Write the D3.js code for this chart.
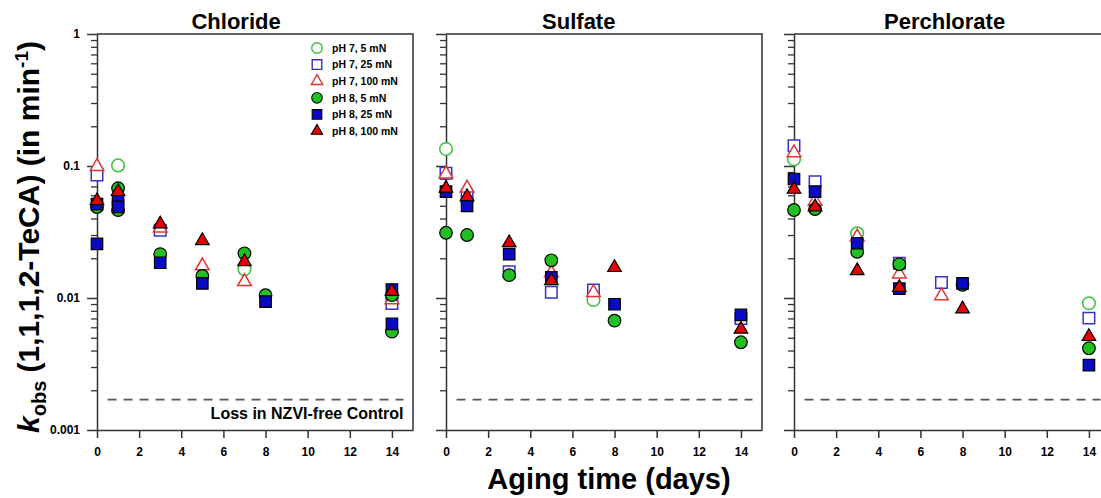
<!DOCTYPE html>
<html>
<head>
<meta charset="utf-8">
<script src="https://cdn.jsdelivr.net/npm/d3@7"></script>
<style>
  body { margin: 0; background: #fff; }
  svg { display: block; font-family: "Liberation Sans", Arial, sans-serif; font-weight: bold; }
</style>
</head>
<body>
<script>
const panels = ['Chloride', 'Sulfate', 'Perchlorate']
const seriesNames = ['pH 7, 5 mN', 'pH 7, 25 mN', 'pH 7, 100 mN', 'pH 8, 5 mN', 'pH 8, 25 mN', 'pH 8, 100 mN']
const xTicks = [0, 2, 4, 6, 8, 10, 12, 14]
const yMajor = [0.001, 0.01, 0.1, 1]
const yLabels = ['0.001', '0.01', '0.1', '1']
const controlLoss = 0.0017

// [day, kobs] per series, series in the order of seriesNames
const chloride = [
    [[1, 0.101], [7, 0.0165]],
    [[0, 0.0855], [3, 0.0326], [14, 0.0091]],
    [[0, 0.099], [3, 0.0338], [5, 0.0175], [7, 0.0133], [14, 0.0097]],
    [[0, 0.0489], [1, 0.0678], [1, 0.0464], [3, 0.0215], [5, 0.0147], [7, 0.0218], [8, 0.0105], [14, 0.0105], [14, 0.00556]],
    [[0, 0.0515], [0, 0.0257], [1, 0.055], [1, 0.049], [3, 0.0185], [5, 0.0129], [8, 0.0094], [14, 0.0116], [14, 0.00636]],
    [[0, 0.0546], [1, 0.064], [3, 0.0364], [5, 0.0272], [7, 0.0188], [14, 0.0112]]
]
const sulfate = [
    [[0, 0.1345], [7, 0.00966]],
    [[0, 0.088], [1, 0.059], [3, 0.0158], [5, 0.01105], [7, 0.0115], [14, 0.0070]],
    [[0, 0.087], [1, 0.068], [5, 0.0155], [7, 0.0110]],
    [[0, 0.0312], [1, 0.030], [3, 0.0149], [5, 0.0193], [8, 0.00673], [14, 0.00462]],
    [[0, 0.064], [1, 0.0498], [3, 0.0215], [5, 0.01435], [8, 0.00897], [14, 0.00744]],
    [[0, 0.0678], [1, 0.0586], [3, 0.0262], [5, 0.0135], [8, 0.0170], [14, 0.0058]]
]
const perchlorate = [
    [[0, 0.1124], [3, 0.0309], [14, 0.00912]],
    [[0, 0.1425], [1, 0.076], [5, 0.0183], [7, 0.0131], [14, 0.00704]],
    [[0, 0.126], [1, 0.054], [3, 0.029], [5, 0.0152], [7, 0.0104]],
    [[0, 0.0464], [1, 0.0472], [3, 0.0224], [5, 0.018], [8, 0.0126], [14, 0.00416]],
    [[0, 0.0797], [1, 0.064], [3, 0.026], [5, 0.01177], [8, 0.0129], [14, 0.0031]],
    [[0, 0.0666], [1, 0.049], [3, 0.0161], [5, 0.0120], [8, 0.00826], [14, 0.0051]]
]
const panelData = [chloride, sulfate, perchlorate]

// marker style per series
const shapes = [d3.symbolCircle, d3.symbolSquare, d3.symbolTriangle, d3.symbolCircle, d3.symbolSquare, d3.symbolTriangle]
const sizes = [125, 132, 80, 125, 132, 80]
const fills = ['#fff', '#fff', '#fff', '#1fc01f', '#0a0ac4', '#e80000']
const strokes = ['#3cc03c', '#3434cc', '#e03434', '#000', '#000', '#000']

const width = 1101
const height = 498
const panelLeft = [97, 446, 794]
const panelWidth = 316
const plotTop = 34
const plotBottom = 430
const titleShift = [-0.4, -0.7, 0.15]
const font = '"Liberation Sans", Arial, sans-serif'

const svg = d3.select('body').append('svg')
    .attr('width', width)
    .attr('height', height)

const y = d3.scaleLog().domain([0.001, 1]).range([plotBottom, plotTop])
const yMinor = []
for (let e = -3; e < 0; e++) {
    for (let m = 2; m < 10; m++) yMinor.push(m * Math.pow(10, e))
}

panels.forEach((name, p) => {
    const x = d3.scaleLinear().domain([0, 15]).range([panelLeft[p], panelLeft[p] + panelWidth])
    const g = svg.append('g')

    // frame top + right
    g.append('path')
        .attr('d', `M${x(0)},${y(1)}H${x(15)}V${y(0.001)}`)
        .attr('fill', 'none')
        .attr('stroke', '#333')
        .attr('stroke-width', 1.5)

    // minor y ticks
    g.append('g')
        .attr('transform', `translate(${x(0)},0)`)
        .call(d3.axisLeft(y).tickValues(yMinor).tickSize(6).tickSizeOuter(0).tickFormat(''))
        .call(a => a.select('.domain').remove())
        .call(a => a.selectAll('line').attr('stroke', '#333').attr('stroke-width', 1.3))

    // major y ticks
    g.append('g')
        .attr('transform', `translate(${x(0)},0)`)
        .call(d3.axisLeft(y).tickValues(yMajor).tickSize(10).tickSizeOuter(0)
            .tickFormat((d, i) => p === 0 ? yLabels[i] : ''))
        .call(a => a.select('.domain').attr('stroke', '#333').attr('stroke-width', 1.5))
        .call(a => a.selectAll('line').attr('stroke', '#333').attr('stroke-width', 1.5))
        .call(a => a.selectAll('text').attr('font-size', 12).attr('font-weight', 'bold')
            .attr('font-family', font).attr('fill', '#000').attr('x', -17))

    // x axis
    g.append('g')
        .attr('transform', `translate(0,${plotBottom})`)
        .call(d3.axisBottom(x).tickValues(xTicks).tickSize(8).tickSizeOuter(0))
        .call(a => a.select('.domain').attr('stroke', '#333').attr('stroke-width', 1.5))
        .call(a => a.selectAll('line').attr('stroke', '#333').attr('stroke-width', 1.5))
        .call(a => a.selectAll('text').attr('font-size', 12).attr('font-weight', 'bold')
            .attr('font-family', font).attr('fill', '#000').attr('y', 17))

    // control loss line
    g.append('line')
        .attr('x1', x(0.5)).attr('x2', x(14.55))
        .attr('y1', y(controlLoss)).attr('y2', y(controlLoss))
        .attr('stroke', '#555')
        .attr('stroke-width', 1.8)
        .attr('stroke-dasharray', '9,7')

    g.append('text')
        .attr('x', x(7) + titleShift[p] * 21)
        .attr('y', 29)
        .attr('text-anchor', 'middle')
        .attr('font-size', 22)
        .text(name)

    // markers
    panelData[p].forEach((pts, s) => {
        g.append('g').selectAll('path')
            .data(pts)
            .join('path')
            .attr('transform', d => `translate(${x(d[0])},${y(d[1])})`)
            .attr('d', d3.symbol().type(shapes[s]).size(sizes[s]))
            .attr('fill', fills[s])
            .attr('stroke', strokes[s])
            .attr('stroke-width', s < 3 ? 1.5 : 1.2)
    })

    if (p === 0) {
        g.append('text')
            .attr('x', x(14.55))
            .attr('y', 419)
            .attr('text-anchor', 'end')
            .attr('font-size', 16)
            .text('Loss in NZVI-free Control')

        const legend = g.append('g').attr('transform', 'translate(317,48)')
        seriesNames.forEach((n, s) => {
            const row = legend.append('g').attr('transform', `translate(0,${s * 16.6})`)
            row.append('path')
                .attr('d', d3.symbol().type(shapes[s]).size(sizes[s] * 0.7))
                .attr('fill', fills[s])
                .attr('stroke', strokes[s])
                .attr('stroke-width', s < 3 ? 1.4 : 1.1)
            row.append('text')
                .attr('x', 15)
                .attr('y', 3.8)
                .attr('font-size', 10.5)
                .text(n)
        })
    }
})

// axis titles
const yTitle = svg.append('text')
    .attr('transform', 'translate(39,237) rotate(-90)')
    .attr('text-anchor', 'middle')
    .attr('font-size', 30)
yTitle.append('tspan').attr('font-style', 'italic').text('k')
yTitle.append('tspan').attr('font-size', 20).attr('dy', 7).text('obs')
yTitle.append('tspan').attr('dy', -7).text(' (1,1,1,2-TeCA) (in min')
yTitle.append('tspan').attr('font-size', 19).attr('dy', -11).text('-1')
yTitle.append('tspan').attr('dy', 11).text(')')

svg.append('text')
    .attr('x', 609)
    .attr('y', 489)
    .attr('text-anchor', 'middle')
    .attr('font-size', 29)
    .text('Aging time (days)')
</script>
</body>
</html>
